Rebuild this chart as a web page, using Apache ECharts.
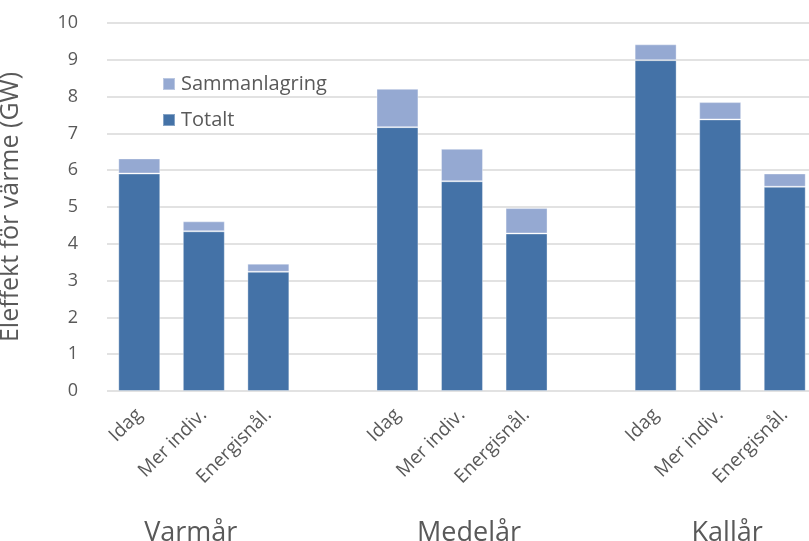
<!DOCTYPE html>
<html>
<head>
<meta charset="utf-8">
<script src="https://cdn.jsdelivr.net/npm/echarts@6/dist/echarts.min.js"></script>
<style>html,body{margin:0;padding:0;background:#fff}#c{width:809px;height:541px}</style>
</head>
<body>
<div id="c"></div>
<script>
var categories = ['Idag', 'Mer indiv.', 'Energisnål.', '', 'Idag', 'Mer indiv.', 'Energisnål.', '', 'Idag', 'Mer indiv.', 'Energisnål.'];
var groupLabels = ['', 'Varmår', '', '', '', 'Medelår', '', '', '', 'Kallår', ''];
var totalt = [5.91, 4.34, 3.24, null, 7.17, 5.70, 4.28, null, 8.99, 7.38, 5.55];
var sammanlagring = [0.41, 0.27, 0.22, null, 1.04, 0.88, 0.69, null, 0.43, 0.47, 0.36];
var yTicks = [0, 1, 2, 3, 4, 5, 6, 7, 8, 9, 10];

var font = 'Open Sans';
var groupStyle = { Varmår: 'l', Medelår: 'r', Kallår: 'r' };
var chart = echarts.init(document.getElementById('c'));
chart.setOption({
  animation: false,
  textStyle: { fontFamily: font },
  grid: { left: 107, right: -8, top: 23, bottom: 150, containLabel: false, outerBoundsMode: 'none' },
  legend: {
    orient: 'vertical', left: 157, top: 69, itemGap: 16,
    itemWidth: 12, itemHeight: 12, icon: 'rect',
    data: ['Sammanlagring', 'Totalt'],
    textStyle: { fontFamily: font, fontSize: 20, color: '#595959', padding: [0, 0, 0, 1] }
  },
  xAxis: [{
    type: 'category', data: categories, position: 'bottom',
    axisLine: { show: false }, axisTick: { show: false },
    axisLabel: { rotate: 45, fontSize: 19, color: '#595959', margin: 21, interval: 0, fontFamily: font }
  }, {
    type: 'category', data: groupLabels, position: 'bottom',
    axisLine: { show: false }, axisTick: { show: false },
    axisLabel: {
      fontSize: 27, color: '#595959', margin: 129, interval: 0, fontFamily: font,
      formatter: function (v) { return v ? '{' + groupStyle[v] + '|' + v + '}' : ''; },
      rich: {
        l: { fontSize: 27, color: '#595959', fontFamily: font, padding: [0, 26, 0, 0] },
        r: { fontSize: 27, color: '#595959', fontFamily: font, padding: [0, 0, 0, 14] }
      }
    }
  }],
  yAxis: {
    type: 'value', min: yTicks[0], max: yTicks[yTicks.length - 1], interval: 1,
    name: 'Eleffekt för värme (GW)', nameLocation: 'middle', nameGap: 84,
    nameTextStyle: { fontSize: 25, color: '#595959', fontFamily: font },
    axisLine: { show: false }, axisTick: { show: false },
    axisLabel: { fontSize: 18, color: '#595959', margin: 29, fontFamily: font },
    splitLine: { lineStyle: { color: '#d9d9d9', width: 1.5 } }
  },
  series: [{
    name: 'Totalt', type: 'bar', stack: 's', data: totalt,
    barCategoryGap: '35%',
    itemStyle: { color: '#4472a7', borderColor: 'rgba(255,255,255,0.35)', borderWidth: 1 }
  }, {
    name: 'Sammanlagring', type: 'bar', stack: 's', data: sammanlagring,
    barCategoryGap: '35%',
    itemStyle: { color: '#95a9d2', borderColor: 'rgba(255,255,255,0.35)', borderWidth: 1 }
  }]
});
</script>
</body>
</html>
